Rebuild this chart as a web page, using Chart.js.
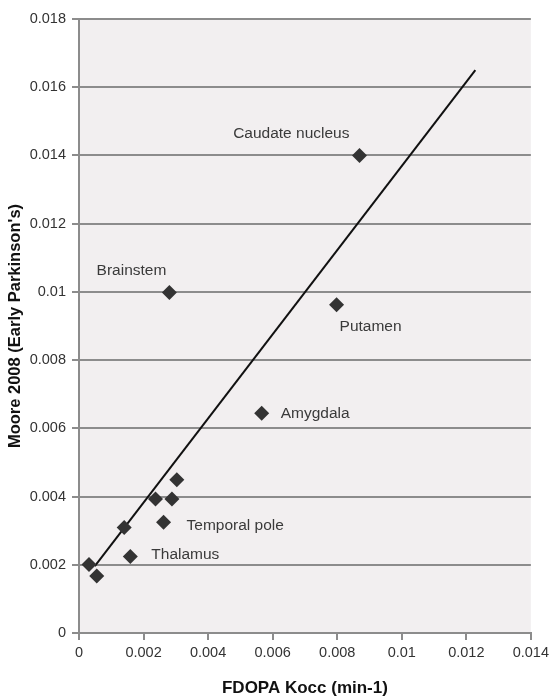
<!DOCTYPE html>
<html>
<head>
<meta charset="utf-8">
<title>FDOPA Kocc vs Moore 2008</title>
<script src="https://cdn.jsdelivr.net/npm/chart.js@4/dist/chart.umd.min.js"></script>
<style>
    body { margin: 0; background: #ffffff; }
    #wrap { width: 553px; height: 697px; }
</style>
</head>
<body>
<div id="wrap"><canvas id="chart" width="553" height="697"></canvas></div>
<script>
// Regions: FDOPA Kocc (x) against Moore 2008 early Parkinson's (y)
const regionNames = ['Caudate nucleus', 'Brainstem', 'Putamen', 'Amygdala', 'Temporal pole', 'Thalamus',
    '', '', '', '', '', ''];
const kocc = [0.00869, 0.0028, 0.00798, 0.00566, 0.00262, 0.00159,
    0.00303, 0.00237, 0.00288, 0.0014, 0.00031, 0.00055];
const moore = [0.014, 0.00998, 0.00962, 0.00644, 0.00325, 0.00224,
    0.00449, 0.00393, 0.00393, 0.00309, 0.00201, 0.00167];

// Regression line end points
const fitX = [0.00049, 0.01228];
const fitY = [0.00196, 0.0165];

// Axis ticks
const xTicks = [0, 0.002, 0.004, 0.006, 0.008, 0.01, 0.012, 0.014];
const yTicks = [0, 0.002, 0.004, 0.006, 0.008, 0.01, 0.012, 0.014, 0.016, 0.018];

// Where each region name sits next to its marker
const labelPlacement = [
    { dx: -10, dy: -22, align: 'right' },
    { dx: -3, dy: -22, align: 'right' },
    { dx: 3, dy: 22, align: 'left' },
    { dx: 19, dy: 0, align: 'left' },
    { dx: 23, dy: 4, align: 'left' },
    { dx: 21, dy: -2, align: 'left' }
];

const FONT = '"Liberation Sans", Arial, sans-serif';
const GRID = '#8c8c8c';

// Light plot background
const plotBackground = {
    id: 'plotBackground',
    beforeDraw(chart) {
        const { ctx, chartArea } = chart;
        ctx.save();
        ctx.fillStyle = '#f2eff0';
        ctx.fillRect(chartArea.left, chartArea.top, chartArea.right - chartArea.left, chartArea.bottom - chartArea.top);
        ctx.restore();
    }
};

// Region names next to the markers
const regionLabels = {
    id: 'regionLabels',
    afterDatasetsDraw(chart) {
        const { ctx } = chart;
        const meta = chart.getDatasetMeta(0);
        ctx.save();
        ctx.font = '15.5px ' + FONT;
        ctx.fillStyle = '#3a3a3a';
        ctx.textBaseline = 'middle';
        regionNames.forEach((name, i) => {
            if (!name) return;
            const pt = meta.data[i];
            const place = labelPlacement[i];
            ctx.textAlign = place.align;
            ctx.fillText(name, pt.x + place.dx, pt.y + place.dy);
        });
        ctx.restore();
    }
};

const points = kocc.map((x, i) => ({ x: x, y: moore[i] }));
const fitLine = fitX.map((x, i) => ({ x: x, y: fitY[i] }));

function tickText(v) {
    return String(parseFloat(v.toFixed(3)));
}

new Chart(document.getElementById('chart'), {
    type: 'scatter',
    data: {
        datasets: [{
            label: 'Regions',
            data: points,
            pointStyle: 'rectRot',
            pointRadius: 7.5,
            pointHoverRadius: 7.5,
            backgroundColor: '#333333',
            borderColor: '#333333',
            borderWidth: 0
        }, {
            type: 'line',
            label: 'Fit',
            data: fitLine,
            borderColor: '#111111',
            borderWidth: 2,
            pointRadius: 0,
            fill: false
        }]
    },
    options: {
        responsive: false,
        animation: false,
        layout: {
            padding: { left: 0, top: 19, right: 21, bottom: 0 }
        },
        plugins: {
            legend: { display: false },
            tooltip: { enabled: false }
        },
        scales: {
            x: {
                type: 'linear',
                min: 0,
                max: 0.014,
                afterBuildTicks: (scale) => { scale.ticks = xTicks.map(v => ({ value: v })); },
                afterFit: (scale) => { scale.height = 64; },
                ticks: {
                    color: '#333333',
                    font: { family: FONT, size: 14.5 },
                    padding: 4,
                    maxRotation: 0,
                    callback: (v) => tickText(v)
                },
                grid: {
                    drawOnChartArea: false,
                    drawTicks: true,
                    tickLength: 7,
                    color: GRID,
                    lineWidth: 2
                },
                border: { display: true, color: GRID, width: 2 },
                title: {
                    display: true,
                    text: 'FDOPA Kocc (min-1)',
                    color: '#111111',
                    font: { family: FONT, size: 17, weight: 'bold', lineHeight: 1 },
                    padding: { top: 0, bottom: 0 }
                }
            },
            y: {
                type: 'linear',
                min: 0,
                max: 0.018,
                afterBuildTicks: (scale) => { scale.ticks = yTicks.map(v => ({ value: v })); },
                afterFit: (scale) => { scale.width = 79; },
                ticks: {
                    color: '#333333',
                    font: { family: FONT, size: 14.5 },
                    padding: 6,
                    callback: (v) => tickText(v)
                },
                grid: {
                    drawTicks: true,
                    tickLength: 7,
                    color: GRID,
                    lineWidth: 2
                },
                border: { display: true, color: GRID, width: 2 },
                title: {
                    display: true,
                    text: "Moore 2008 (Early Parkinson's)",
                    color: '#111111',
                    font: { family: FONT, size: 16.5, weight: 'bold', lineHeight: 1 },
                    padding: { top: 7, bottom: 0 }
                }
            }
        }
    },
    plugins: [plotBackground, regionLabels]
});
</script>
</body>
</html>
